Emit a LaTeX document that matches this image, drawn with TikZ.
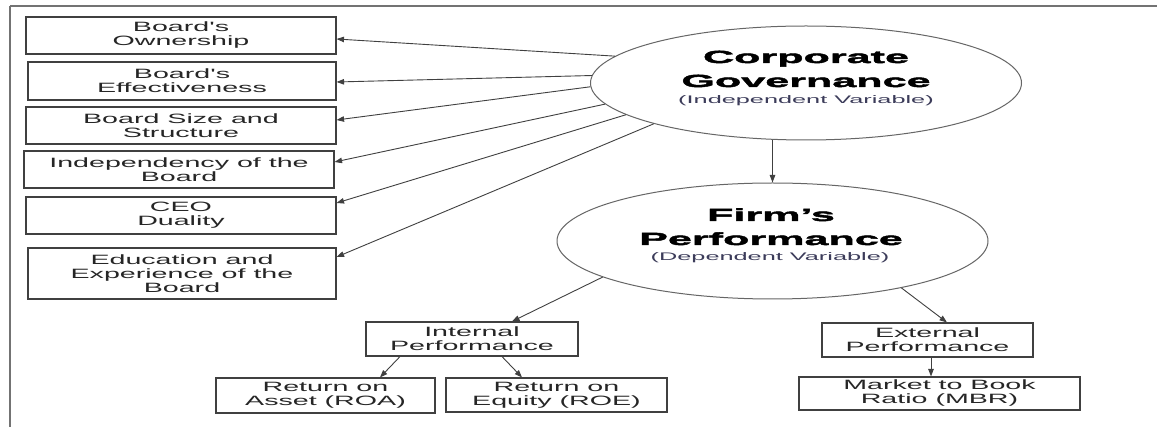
\documentclass[tikz,border=0pt]{standalone}
\usepackage{fontspec}
\usetikzlibrary{arrows.meta,shapes.geometric}
\newfontfamily\boxfont[FakeStretch=2.12]{Liberation Sans}
\newfontfamily\titlefont[FakeStretch=2.45,FakeBold=2.5]{Liberation Sans Bold}
\newfontfamily\subfont[FakeStretch=2.3]{Liberation Sans}
\definecolor{subcol}{RGB}{60,60,90}
\tikzset{
  varbox/.style={draw=black!75, line width=1.1pt, inner sep=0pt, align=center,
    font=\boxfont\fontsize{13.5}{14}\selectfont, text=black!85},
  oval/.style={ellipse, draw=black!60, line width=1pt, inner sep=0pt},
  ttl/.style={anchor=base, inner sep=0pt, font=\titlefont\fontsize{17.6}{20}\selectfont},
  subttl/.style={anchor=base, inner sep=0pt, font=\subfont\fontsize{11}{13}\selectfont, text=subcol},
  conn/.style={draw=black!75, line width=0.9pt, -{Triangle[length=7.5pt,width=5.5pt]}},
  frameline/.style={draw=black!55}
}
\begin{document}
\begin{tikzpicture}[x=1pt,y=-1pt]
\useasboundingbox (0,0) rectangle (1157,427);
\fill[white] (0,0) rectangle (1157,427);
% frame
\coordinate (ftl) at (10,6);
\coordinate (ftr) at (1157,6);
\coordinate (fbl) at (10,427);
\draw[frameline, line width=1.2pt] (ftl) -- (ftr);
\draw[frameline, line width=2.4pt] (ftl) -- (fbl);

% left boxes
\node[varbox, minimum width=310, minimum height=37] (b1) at (181,35.5) {Board's\\Ownership};
\node[varbox, minimum width=308, minimum height=38] (b2) at (182,81) {Board's\\Effectiveness};
\node[varbox, minimum width=310, minimum height=37] (b3) at (181,125.5) {Board Size and\\Structure};
\node[varbox, minimum width=310, minimum height=37] (b4) at (179,169.5) {Independency of the\\Board};
\node[varbox, minimum width=310, minimum height=37] (b5) at (181,215.5) {CEO\\Duality};
\node[varbox, minimum width=308, minimum height=51] (b6) at (182,273.5) {Education and\\Experience of the\\Board};

% ellipses
\node[oval, minimum width=431, minimum height=114] (cg) at (806,83) {};
\node[ttl] (cg1) at (806,63) {Corporate};
\node[ttl] (cg2) at (806,87) {Governance};
\node[subttl] (cg3) at (806,104) {(Independent Variable)};

\node[oval, minimum width=431, minimum height=116] (fp) at (772.5,241) {};
\node[ttl] (fp1) at (771,221) {Firm’s};
\node[ttl] (fp2) at (771,245) {Performance};
\node[subttl] (fp3) at (770,261) {(Dependent Variable)};

% lower boxes
\node[varbox, minimum width=212, minimum height=34] (int) at (472,339) {Internal\\Performance};
\node[varbox, minimum width=211, minimum height=34] (ext) at (927.5,340) {External\\Performance};
\node[varbox, minimum width=219, minimum height=35] (roa) at (325.5,395.5) {Return on\\Asset (ROA)};
\node[varbox, minimum width=221, minimum height=34] (roe) at (556.5,395) {Return on\\Equity (ROE)};
\node[varbox, minimum width=281, minimum height=33] (mbr) at (939.5,393.5) {Market to Book\\Ratio (MBR)};

% connectors
\draw[conn] (cg.172.7) -- ([yshift=-3.5pt]b1.east);
\draw[conn] (cg.178.4) -- ([yshift=-1pt]b2.east);
\draw[conn] (cg.181.6) -- ([yshift=5.5pt]b3.east);
\draw[conn] (cg.186.2) -- ([yshift=7.5pt]b4.east);
\draw[conn] (cg.190.8) -- ([yshift=12.5pt]b5.east);
\draw[conn] (cg.195.7) -- ([yshift=16.5pt]b6.east);

\draw[conn] (cg.south -| fp.north) -- (fp.north);
\draw[conn] (fp.192.6) -- ([xshift=40pt]int.north);
\draw[conn] (fp.340.6) -- ([xshift=19.5pt]ext.north);
\draw[conn] ([xshift=-72pt]int.south) -- ([xshift=54.5pt]roa.north);
\draw[conn] ([xshift=30pt]int.south) -- ([xshift=-34.5pt]roe.north);
\draw[conn] ([xshift=3.5pt]ext.south) -- ([xshift=-8.5pt]mbr.north);
\end{tikzpicture}
\end{document}
